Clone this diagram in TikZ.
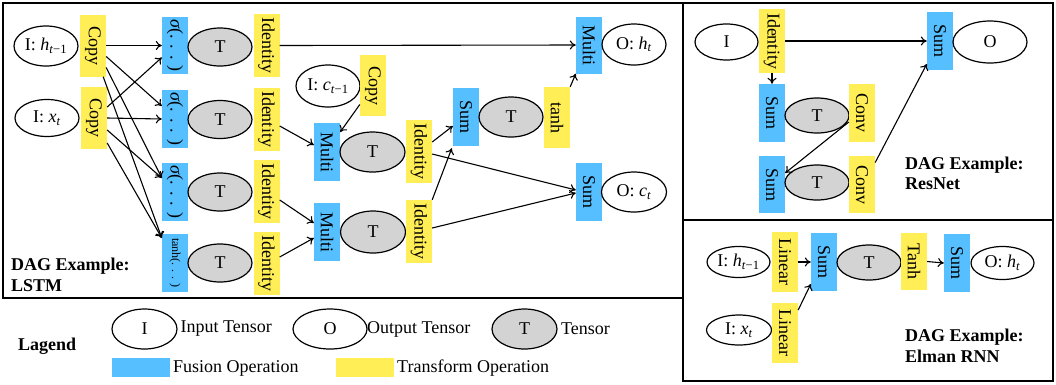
\documentclass[tikz,border=0pt]{standalone}
\usepackage{fontspec}
\setmainfont{Liberation Serif}
\usetikzlibrary{arrows.meta,shapes.geometric}
\definecolor{fus}{HTML}{55BFFF}
\definecolor{tra}{HTML}{FFEE55}
\definecolor{ten}{HTML}{D3D3D3}
\newcommand{\vlab}[1]{\rotatebox{-90}{#1}}
\newcommand{\ec}[1]{\makebox[0pt]{#1}}
\tikzset{
 basefont/.style={font=\fontsize{18}{21}\selectfont},
 fusion/.style={fill=fus, minimum width=26pt, minimum height=58pt, inner sep=0pt},
 transf/.style={fill=tra, minimum width=26pt, minimum height=62pt, inner sep=0pt},
 tensor/.style={ellipse, draw, line width=1.2pt, fill=ten, minimum width=64pt, minimum height=38pt, inner sep=0pt},
 io/.style={ellipse, draw, line width=1.2pt, fill=white, minimum width=64pt, minimum height=40pt, inner sep=0pt},
 arr/.style={-{To[length=6pt,width=9pt]}, line width=1.1pt},
 panel/.style={draw, line width=1.5pt},
 title/.style={font=\fontsize{18}{21}\selectfont\bfseries, anchor=base west, inner sep=0pt},
 txt/.style={anchor=west, inner sep=0pt},
}
\begin{document}
\begin{tikzpicture}[x=1pt,y=-1pt, every node/.append style={basefont}]
\useasboundingbox (0,0) rectangle (1056,384);
% panels
\draw[panel] (3,3) rectangle (683,298);
\draw[panel] (683,3) rectangle (1053,220);
\draw[panel] (683,220) rectangle (1053,381);

% ---------------- LSTM ----------------
\node[io] (ih) at (46,46) {\ec{I: \textit{h}\textsubscript{\textit{t}−1}}};
\node[transf] (cp1) at (93,45.5) {\vlab{Copy}};
\node[io, minimum height=37pt] (ix) at (47,118) {\ec{I: \textit{x}\textsubscript{\textit{t}}}};
\node[transf] (cp2) at (94,118) {\vlab{Copy}};

\node[fusion, minimum height=57pt] (s1) at (175,45.5) {\vlab{\textit{σ}(. . . )}};
\node[tensor] (t1) at (220,47) {T};
\node[transf, minimum height=63pt] (id1) at (266.5,45.5) {\vlab{Identity}};

\node[fusion] (s2) at (175,119) {\vlab{\textit{σ}(. . . )}};
\node[tensor] (t2) at (220,119.5) {T};
\node[transf, minimum height=63pt] (id2) at (266.5,119) {\vlab{Identity}};

\node[fusion] (s3) at (175,192) {\vlab{\textit{σ}(. . . )}};
\node[tensor] (t3) at (220,192) {T};
\node[transf, minimum height=63pt] (id3) at (266.5,191.5) {\vlab{Identity}};

\node[fusion] (s4) at (175,263) {\vlab{\fontsize{12}{14}\selectfont tanh(. . . )}};
\node[tensor] (t4) at (220,263) {T};
\node[transf, minimum height=63pt] (id4) at (266.5,263) {\vlab{Identity}};

\node[io, minimum height=42pt] (ic) at (328,86) {\ec{I: \textit{c}\textsubscript{\textit{t}−1}}};
\node[transf, minimum height=61pt] (cp3) at (373,85.5) {\vlab{Copy}};

\node[fusion] (m1) at (327,152) {\vlab{Multi}};
\node[tensor, minimum width=65pt, minimum height=40pt] (t5) at (372.5,152) {T};
\node[transf, minimum height=63pt] (id5) at (419,151.5) {\vlab{Identity}};

\node[fusion] (m2) at (327,232) {\vlab{Multi}};
\node[tensor, minimum width=65pt, minimum height=42pt] (t6) at (373,232) {T};
\node[transf, minimum height=63pt] (id6) at (419,231.5) {\vlab{Identity}};

\node[fusion] (sum1) at (466,117) {\vlab{Sum}};
\node[tensor, minimum height=40pt] (t7) at (511,117) {T};
\node[transf, minimum height=61pt] (th) at (557,117.5) {\vlab{tanh}};

\node[fusion, minimum height=57pt] (m3) at (589,45) {\vlab{Multi}};
\node[io, minimum height=41pt] (oh) at (634,44.5) {\ec{O: \textit{h}\textsubscript{\textit{t}}}};
\node[fusion] (sum2) at (589,192) {\vlab{Sum}};
\node[io, minimum width=65pt] (oc) at (634,192) {\ec{O: \textit{c}\textsubscript{\textit{t}}}};

\node[title] (lt1) at (11,270) {DAG Example:};
\node[title] (lt2) at (11,291.5) {LSTM};

% LSTM edges
\draw[arr] (cp1.east) -- (s1.west);
\draw[arr] ([yshift=-11pt]cp1.east) -- ([yshift=13pt]s2.west);
\draw[arr] ([yshift=-22pt]cp1.east) -- ([yshift=14pt]s3.west);
\draw[arr] ([xshift=-3pt]cp1.south east) -- ([yshift=25pt]s4.west);
\draw[arr] ([yshift=11pt]cp2.east) -- ([yshift=-12pt]s1.west);
\draw[arr] (cp2.east) -- (s2.west);
\draw[arr] ([yshift=-12pt]cp2.east) -- ([yshift=14pt]s3.west);
\draw[arr] ([yshift=-25pt]cp2.east) -- ([yshift=25pt]s4.west);
\draw[arr] (id1.east) -- (m3.west);
\draw[arr] ([yshift=-7pt]id2.east) -- ([yshift=7pt]m1.west);
\draw[arr] ([yshift=-19pt]cp3.west) -- ([yshift=20pt]m1.east);
\draw[arr] ([yshift=-8.5pt]id3.east) -- ([yshift=9pt]m2.west);
\draw[arr] ([yshift=6pt]id4.east) -- ([yshift=-6pt]m2.west);
\draw[arr] ([yshift=9.5pt]id5.east) -- ([yshift=-9pt]sum1.west);
\draw[arr] ([yshift=-2.5pt]id5.east) -- ([yshift=2pt]sum2.west);
\draw[arr] (id6.north east) -- ([xshift=-1pt,yshift=-2pt]sum1.south west);
\draw[arr] ([yshift=3.5pt]id6.east) -- ([yshift=-1pt]sum2.west);
\draw[arr] (th.north east) -- (m3.south west);

% ---------------- ResNet ----------------
\node[io, minimum width=63pt, minimum height=36pt] (rI) at (726.5,42) {\ec{I}};
\node[transf, minimum height=64pt] (rid) at (772,41) {\vlab{Identity}};
\node[fusion] (rsum1) at (940,41) {\vlab{Sum}};
\node[io, minimum width=74pt, minimum height=42pt] (rO) at (990,42) {\ec{O}};
\node[fusion] (rsum2) at (772,113) {\vlab{Sum}};
\node[tensor, minimum height=35pt] (rt1) at (817,115.5) {T};
\node[fusion, fill=tra] (rconv1) at (862,113) {\vlab{Conv}};
\node[fusion, minimum height=57pt] (rsum3) at (772,184.5) {\vlab{Sum}};
\node[tensor, minimum height=35pt] (rt2) at (817,182.5) {T};
\node[fusion, fill=tra, minimum height=57pt] (rconv2) at (862,184.5) {\vlab{Conv}};
\node[title] (rt1l) at (905,169) {DAG Example:};
\node[title] (rt2l) at (905,189) {ResNet};

\draw[arr] (rid.east) -- (rsum1.west);
\draw[arr] (rid.south) -- (rsum2.north);
\draw[arr] ([yshift=-9pt]rconv1.west) -- ([yshift=11.5pt]rsum3.east);
\draw[arr] ([yshift=22pt]rconv2.east) -- ([yshift=-23pt]rsum1.west);

% ---------------- Elman RNN ----------------
\node[io, minimum width=63pt, minimum height=31pt] (eI1) at (738.5,262) {\ec{I: \textit{h}\textsubscript{\textit{t}−1}}};
\node[transf, minimum height=60pt] (elin1) at (785,262) {\vlab{Linear}};
\node[fusion] (esum1) at (824,262) {\vlab{Sum}};
\node[tensor, minimum height=35pt] (eT) at (869,262.5) {T};
\node[transf, minimum height=57pt] (etanh) at (914,261.5) {\vlab{Tanh}};
\node[fusion] (esum2) at (957,263) {\vlab{Sum}};
\node[io, minimum width=63pt, minimum height=33pt] (eO) at (1002.5,263) {\ec{O: \textit{h}\textsubscript{\textit{t}}}};
\node[io, minimum width=65pt, minimum height=30pt] (eI2) at (739,330) {\ec{I: \textit{x}\textsubscript{\textit{t}}}};
\node[transf, minimum height=60pt] (elin2) at (785,333) {\vlab{Linear}};
\node[title] (et1) at (905,341) {DAG Example:};
\node[title] (et2) at (905,362) {Elman RNN};

\draw[arr] (elin1.east) -- (esum1.west);
\draw[arr] ([yshift=23pt]elin2.east) -- ([yshift=-22pt]esum1.west);
\draw[arr] (etanh.east) -- (esum2.west);

% ---------------- Legend ----------------
\node[title, anchor=west] (lg) at (18,346) {Lagend};
\node[io, minimum width=65pt, minimum height=40pt] (lgI) at (144.5,329) {\ec{I}};
\node[txt] (lgIt) at (180.5,329) {Input Tensor};
\node[io, minimum width=74pt, minimum height=40pt] (lgO) at (330,329) {\ec{O}};
\node[txt] (lgOt) at (367,329) {Output Tensor};
\node[tensor, minimum width=65pt, minimum height=40pt] (lgT) at (524.5,329) {T};
\node[txt] (lgTt) at (561,329) {Tensor};
\node[fill=fus, minimum width=58pt, minimum height=19pt, inner sep=0pt] (lgF) at (141,367) {};
\node[txt] (lgFt) at (173,368) {Fusion Operation};
\node[fill=tra, minimum width=58pt, minimum height=19pt, inner sep=0pt] (lgX) at (365,367) {};
\node[txt] (lgXt) at (397,368) {Transform Operation};
\end{tikzpicture}
\end{document}
